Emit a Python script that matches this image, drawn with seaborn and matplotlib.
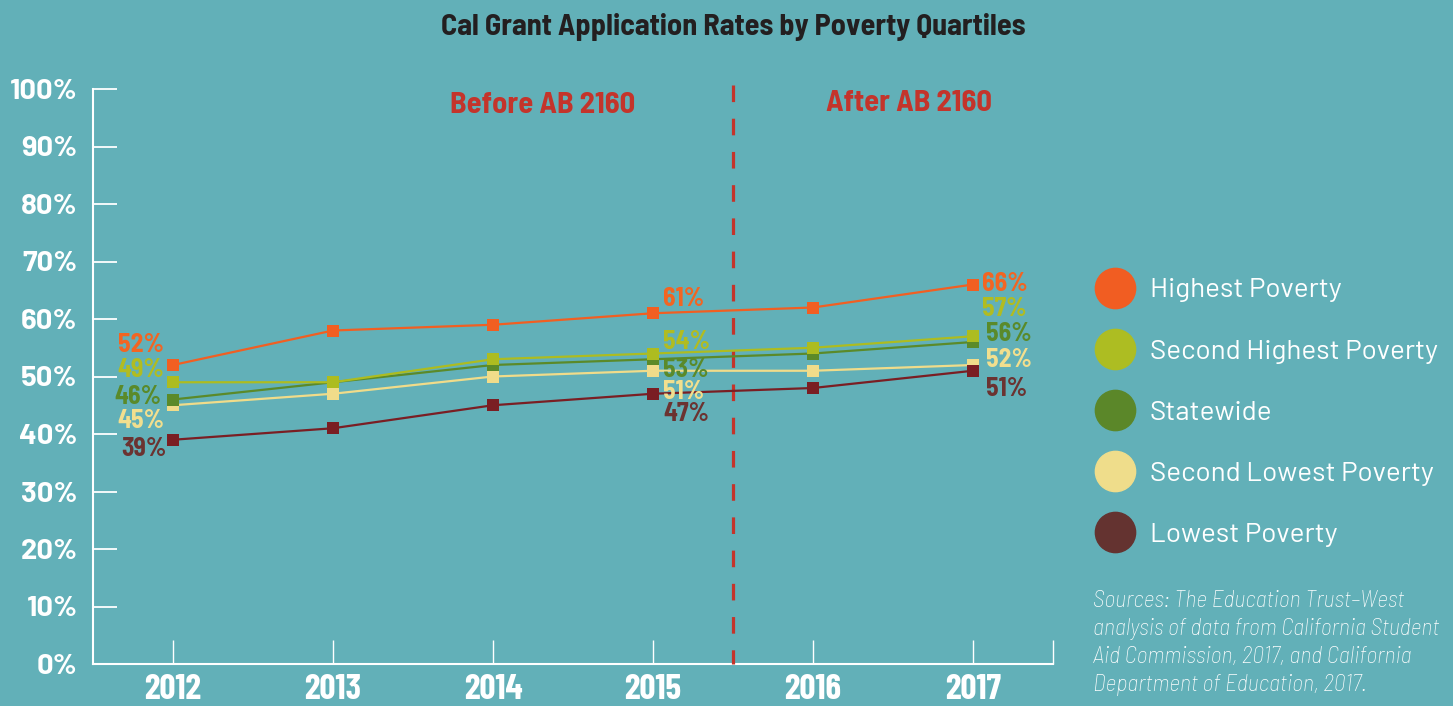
import pandas as pd
import matplotlib.pyplot as plt
import seaborn as sns
from matplotlib.lines import Line2D

# data
years = [2012, 2013, 2014, 2015, 2016, 2017]
groups = ["Highest Poverty", "Second Highest Poverty", "Statewide",
          "Second Lowest Poverty", "Lowest Poverty"]
highest = [52, 58, 59, 61, 62, 66]
second_highest = [49, 49, 53, 54, 55, 57]
statewide = [46, 49, 52, 53, 54, 56]
second_lowest = [45, 47, 50, 51, 51, 52]
lowest = [39, 41, 45, 47, 48, 51]
labeled_years = [2012, 2015, 2017]
y_ticks = [0, 10, 20, 30, 40, 50, 60, 70, 80, 90, 100]

# colours
bg = "#62b0b8"
line_colors = ["#f15f22", "#adbc20", "#5b8a29", "#f0dc8a", "#7a1e23"]
label_colors = ["#f26522", "#b1bc21", "#5a8a2a", "#f2df8e", "#6b3331"]
legend_colors = ["#f15d22", "#adbd22", "#5b8729", "#efdd8b", "#643330"]
red = "#c4342b"

# label offsets in pixels (dx, dy, ha) per group, per labeled year
label_offsets = {
    2012: [(-9, 20, "right"), (-9, 12, "right"), (-12, 2, "right"), (-9, -16, "right"), (-7, -9, "right")],
    2015: [(10, 14, "left"), (10, 11, "left"), (10, -11, "left"), (10, -21, "left"), (10, -20, "left")],
    2017: [(9, 0, "left"), (9, 27, "left"), (13, 8, "left"), (13, 5, "left"), (13, -18, "left")],
}

sns.set_theme(style="white")
cond = ["Barlow Condensed", "DejaVu Sans"]
semi = ["Barlow Semi Condensed", "DejaVu Sans"]
wide = ["Barlow", "DejaVu Sans"]
plt.rcParams["font.family"] = semi

series = [highest, second_highest, statewide, second_lowest, lowest]
df = pd.DataFrame({
    "Year": years * len(groups),
    "Rate": [v for s in series for v in s],
    "Group": [g for g in groups for _ in years],
})

fig = plt.figure(figsize=(14.53, 7.06), dpi=100, facecolor=bg)
ax = fig.add_axes([93 / 1453, 1 - 664 / 706, 960 / 1453, 575 / 706])
ax.set_facecolor(bg)

sns.lineplot(data=df, x="Year", y="Rate", hue="Group", hue_order=groups,
             palette=line_colors, marker="s", markersize=8, markeredgewidth=0,
             linewidth=1.6, legend=False, ax=ax)

zorders = [4, 4.5, 4.2, 4.1, 5]
for ln, z in zip(ax.lines, zorders):
    ln.set_zorder(z)
    ln.set_clip_on(False)

# data labels
for i, g in enumerate(groups):
    for yr in labeled_years:
        v = series[i][years.index(yr)]
        dx, dy, ha = label_offsets[yr][i]
        ax.annotate(f"{v}%", (yr, v), xytext=(dx, dy), textcoords="offset pixels",
                    ha=ha, va="center", fontsize=18.5, fontweight="bold",
                    color=label_colors[i], zorder=6)

# policy divider
ax.plot([2015.5, 2015.5], [100.7, 0], color=red, lw=2.3,
        linestyle=(0, (5.2, 5.2)), clip_on=False, zorder=3)
ax.text(2014.31, 97.2, "Before AB 2160", ha="center", va="center",
        fontsize=22, fontweight="bold", color=red)
ax.text(2016.6, 97.5, "After AB 2160", ha="center", va="center",
        fontsize=22, fontweight="bold", color=red)

ax.set_xlim(2011.5, 2017.5)
ax.set_ylim(0, 100)
ax.set_xticks(years)
ax.set_xticklabels([str(y) for y in years])
ax.set_xticks([2017.5], minor=True)
ax.set_yticks(y_ticks)
ax.set_yticklabels([f"{v}%" for v in y_ticks])
ax.set_xlabel("")
ax.set_ylabel("")

for side in ["top", "right"]:
    ax.spines[side].set_visible(False)
for side in ["left", "bottom"]:
    ax.spines[side].set_color("white")
    ax.spines[side].set_linewidth(1.5)

ax.tick_params(axis="y", which="both", direction="in", length=17, width=1.3,
               color="white", labelcolor="white", labelsize=21, pad=11, left=True)
ax.tick_params(axis="x", which="both", direction="in", length=17, width=1.0,
               color="white", labelcolor="white", labelsize=25.5, pad=7, bottom=True)
for lab in ax.get_yticklabels():
    lab.set_fontweight("bold")
    lab.set_family(wide)
for lab in ax.get_xticklabels():
    lab.set_fontweight("bold")
    lab.set_family(cond)

fig.text(733 / 1453, 1 - 27 / 706, "Cal Grant Application Rates by Poverty Quartiles",
         ha="center", va="center", fontsize=21.8, fontweight="bold", color="#231f20")

handles = [Line2D([], [], ls="", marker="o", ms=29, mfc=c, mec=c) for c in legend_colors]
fig.legend(handles, groups, loc="upper left", bbox_to_anchor=(1101 / 1453, 1 - 278 / 706),
           frameon=False, labelcolor="white", handlelength=1.0,
           handletextpad=0.75, labelspacing=1.32, borderpad=0, borderaxespad=0,
           prop={"family": wide, "size": 20})

fig.text(1093 / 1453, 1 - 590 / 706,
         "Sources: The Education Trust\u2013West\nanalysis of data from California Student\n"
         "Aid Commission, 2017, and California\nDepartment of Education, 2017.",
         ha="left", va="top", fontsize=17.2, style="italic", fontweight="light",
         color="white", linespacing=1.36)

fig.savefig("out.png", dpi=100, facecolor=bg)
